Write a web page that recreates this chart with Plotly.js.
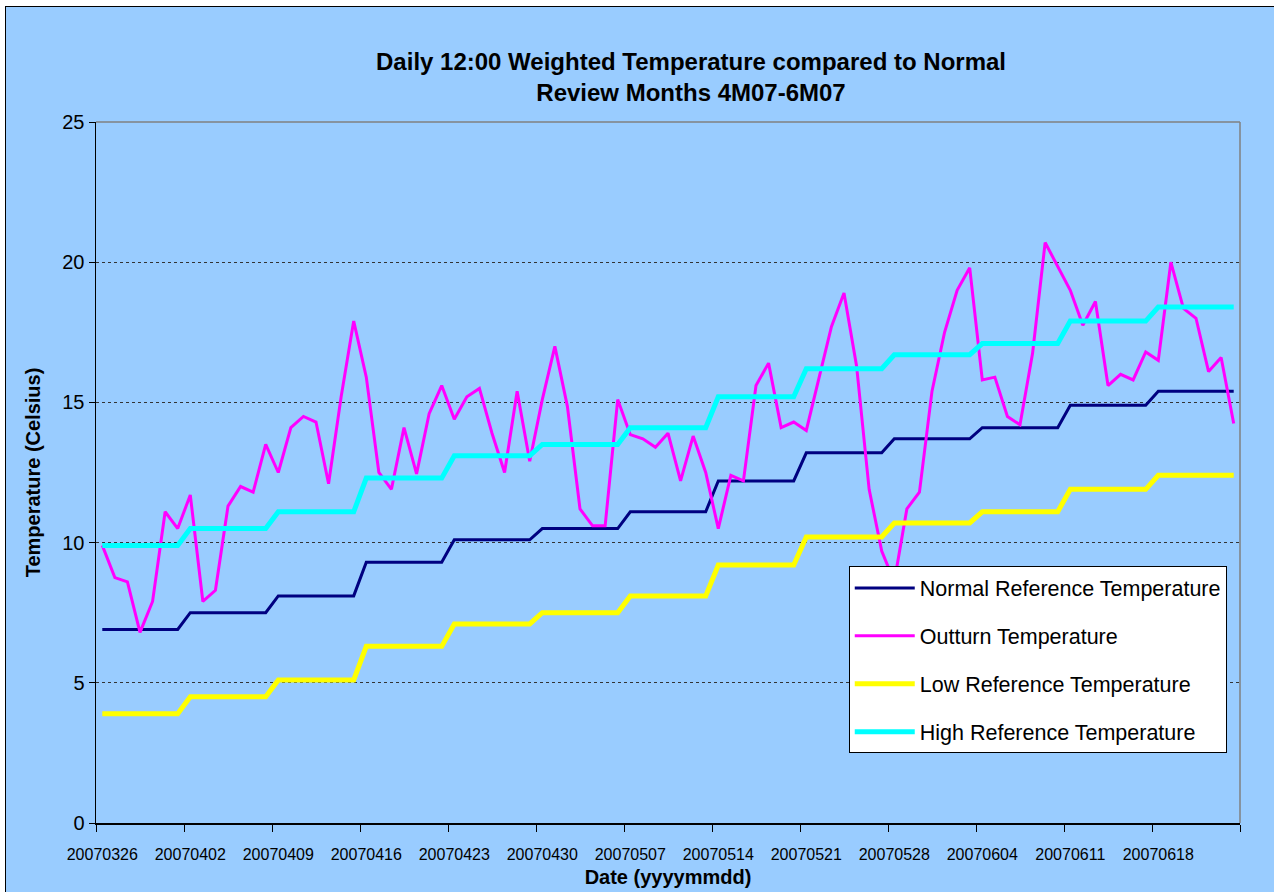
<!DOCTYPE html>
<html>
<head>
<meta charset="utf-8">
<script src="https://cdn.plot.ly/plotly-3.0.1.min.js"></script>
<style>
  html, body { margin: 0; padding: 0; background: #ffffff; width: 1274px; height: 892px; overflow: hidden; }
  #bg { position: absolute; left: 5px; top: 6px; width: 1280px; height: 900px; background: #99CCFF; border-left: 1.5px solid #000; border-top: 1.5px solid #000; }
  #chart { position: absolute; left: 0; top: 0; width: 1274px; height: 892px; }
</style>
</head>
<body>
<div id="bg"></div>
<div id="chart"></div>
<script>
// Categories: one per day, 26 Mar 2007 .. 24 Jun 2007
var dates = [
  "20070326","20070327","20070328","20070329","20070330","20070331",
  "20070401","20070402","20070403","20070404","20070405","20070406","20070407","20070408","20070409","20070410",
  "20070411","20070412","20070413","20070414","20070415","20070416","20070417","20070418","20070419","20070420",
  "20070421","20070422","20070423","20070424","20070425","20070426","20070427","20070428","20070429","20070430",
  "20070501","20070502","20070503","20070504","20070505","20070506","20070507","20070508","20070509","20070510",
  "20070511","20070512","20070513","20070514","20070515","20070516","20070517","20070518","20070519","20070520",
  "20070521","20070522","20070523","20070524","20070525","20070526","20070527","20070528","20070529","20070530",
  "20070531",
  "20070601","20070602","20070603","20070604","20070605","20070606","20070607","20070608","20070609","20070610",
  "20070611","20070612","20070613","20070614","20070615","20070616","20070617","20070618","20070619","20070620",
  "20070621","20070622","20070623","20070624"
];

// Weekly reference values (each applies to 7 consecutive days)
var normalWeekly = [6.9, 7.5, 8.1, 9.3, 10.1, 10.5, 11.1, 12.2, 13.2, 13.7, 14.1, 14.9, 15.4];
var lowWeekly    = [3.9, 4.5, 5.1, 6.3, 7.1, 7.5, 8.1, 9.2, 10.2, 10.7, 11.1, 11.9, 12.4];
var highWeekly   = [9.9, 10.5, 11.1, 12.3, 13.1, 13.5, 14.1, 15.2, 16.2, 16.7, 17.1, 17.9, 18.4];

// Daily outturn temperature
var outturn = [
  9.9, 8.75, 8.6, 6.8, 7.9, 11.1, 10.5,
  11.7, 7.9, 8.3, 11.3, 12.0, 11.8, 13.5,
  12.5, 14.1, 14.5, 14.3, 12.1, 15.2, 17.9,
  15.9, 12.5, 11.9, 14.1, 12.45, 14.6, 15.6,
  14.4, 15.2, 15.5, 13.9, 12.5, 15.4, 12.9,
  15.1, 17.0, 14.85, 11.2, 10.6, 10.6, 15.1,
  13.85, 13.7, 13.4, 13.9, 12.2, 13.8, 12.5,
  10.5, 12.4, 12.2, 15.6, 16.4, 14.1, 14.3,
  14.0, 15.9, 17.7, 18.9, 16.3, 11.9, 9.7,
  8.6, 11.2, 11.8, 15.4, 17.5, 19.0, 19.8,
  15.8, 15.9, 14.5, 14.2, 16.75, 20.7, 19.85,
  19.0, 17.75, 18.6, 15.6, 16.0, 15.8, 16.8,
  16.5, 20.0, 18.35, 18.0, 16.1, 16.6, 14.25
];

var seriesNames = ["Normal Reference Temperature", "Outturn Temperature", "Low Reference Temperature", "High Reference Temperature"];

function weeklyToDaily(weekly) {
  var out = [];
  for (var w = 0; w < weekly.length; w++) {
    for (var d = 0; d < 7; d++) out.push(weekly[w]);
  }
  return out;
}

var traces = [
  { x: dates, y: weeklyToDaily(normalWeekly), name: seriesNames[0], type: "scatter", mode: "lines",
    line: { color: "#000080", width: 3 }, legendgroup: "a" },
  { x: dates, y: outturn, name: seriesNames[1], type: "scatter", mode: "lines",
    line: { color: "#FF00FF", width: 3 }, legendgroup: "b" },
  { x: dates, y: weeklyToDaily(lowWeekly), name: seriesNames[2], type: "scatter", mode: "lines",
    line: { color: "#FFFF00", width: 5 }, legendgroup: "c" },
  { x: dates, y: weeklyToDaily(highWeekly), name: seriesNames[3], type: "scatter", mode: "lines",
    line: { color: "#00FFFF", width: 5 }, legendgroup: "d" }
];

var layout = {
  width: 1274, height: 892,
  margin: { l: 96, r: 34, t: 122, b: 69 },
  paper_bgcolor: "rgba(0,0,0,0)",
  plot_bgcolor: "#99CCFF",
  font: { family: "Arial, 'Liberation Sans', sans-serif", color: "#000" },
  title: {
    text: "<b>Daily 12:00 Weighted Temperature compared to Normal<br>Review Months 4M07-6M07</b>",
    font: { size: 24, family: "Arial, 'Liberation Sans', sans-serif", color: "#000" },
    xref: "container", x: 0.5424, xanchor: "center",
    yref: "container", y: 0.9215, yanchor: "middle"
  },
  xaxis: {
    type: "category",
    range: [-0.5, 90.5],
    tickmode: "linear", tick0: 0, dtick: 7,
    tickson: "boundaries",
    tickangle: 0,
    ticks: "outside", ticklen: 7, tickcolor: "#000", tickwidth: 1,
    tickfont: { size: 16 },
    ticklabelstandoff: 16,
    showgrid: false,
    showline: true, linecolor: "#000", linewidth: 1.5,
    zeroline: false,
    title: { text: "<b>Date (yyyymmdd)</b>", font: { size: 20 }, standoff: 8 }
  },
  yaxis: {
    range: [0, 25],
    tickmode: "linear", tick0: 0, dtick: 5,
    ticks: "outside", ticklen: 6, tickcolor: "#000", tickwidth: 1,
    tickfont: { size: 20 },
    showgrid: true, gridcolor: "#333333", gridwidth: 1, griddash: "dot",
    showline: true, linecolor: "#000", linewidth: 1.5,
    zeroline: false,
    title: { text: "<b>Temperature (Celsius)</b>", font: { size: 20 }, standoff: 16 }
  },
  shapes: [
    { type: "line", xref: "paper", yref: "paper", x0: 0, x1: 1, y0: 1, y1: 1, line: { color: "#808080", width: 1.5 } },
    { type: "line", xref: "paper", yref: "paper", x0: 1, x1: 1, y0: 0, y1: 1, line: { color: "#808080", width: 1.5 } }
  ],
  showlegend: true,
  legend: {
    x: 0.658, y: 0.366, xanchor: "left", yanchor: "top",
    bgcolor: "#ffffff", bordercolor: "#000", borderwidth: 1,
    font: { size: 21.5, color: "#000" },
    traceorder: "grouped",
    tracegroupgap: 17,
    itemwidth: 60
  }
};

Plotly.newPlot("chart", traces, layout, { displayModeBar: false, staticPlot: true });
</script>
</body>
</html>
